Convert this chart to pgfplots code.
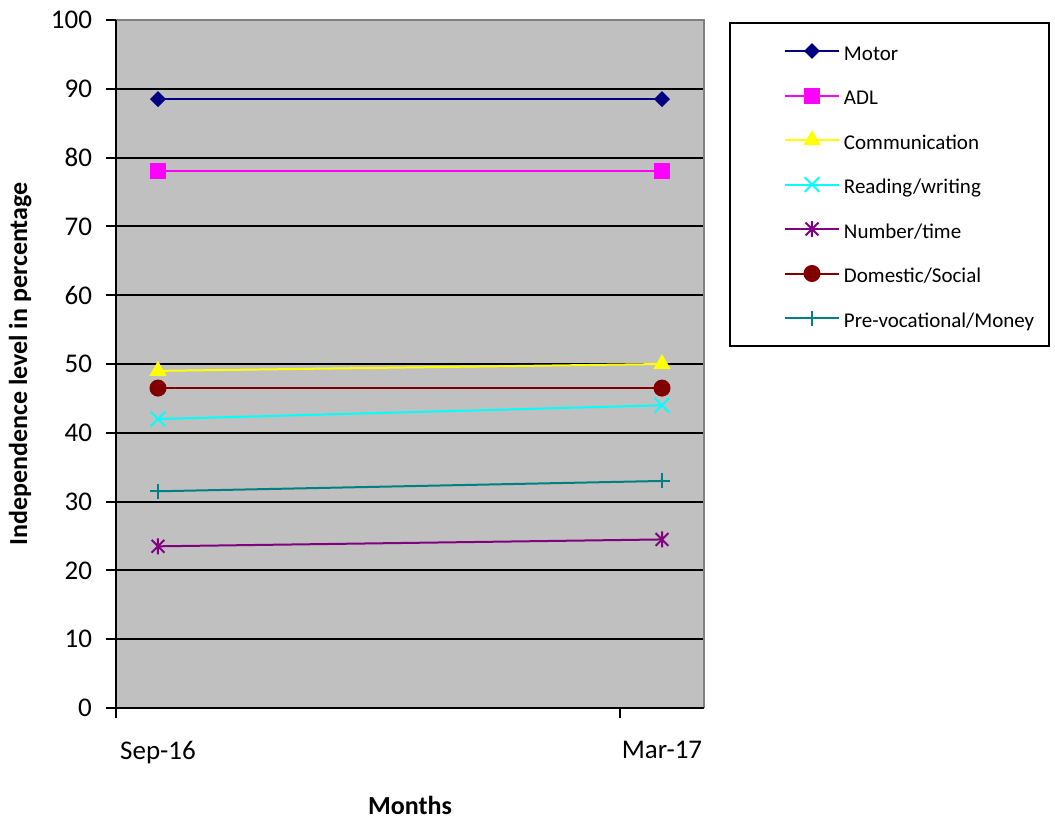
\documentclass[border=0pt]{standalone}
\usepackage{fontspec}
\setmainfont{Carlito}
\usepackage{pgfplots}
\pgfplotsset{compat=1.18}

\definecolor{cMotor}{RGB}{0,0,128}
\definecolor{cADL}{RGB}{255,0,255}
\definecolor{cComm}{RGB}{255,255,0}
\definecolor{cRead}{RGB}{0,255,255}
\definecolor{cNum}{RGB}{128,0,128}
\definecolor{cDom}{RGB}{128,0,0}
\definecolor{cPre}{RGB}{0,128,128}
\definecolor{plotbg}{RGB}{192,192,192}
\definecolor{framegray}{RGB}{128,128,128}

% Excel style star: vertical bar plus an x
\pgfdeclareplotmark{xstar}{%
  \pgfpathmoveto{\pgfqpoint{0pt}{-\pgfplotmarksize}}%
  \pgfpathlineto{\pgfqpoint{0pt}{\pgfplotmarksize}}%
  \pgfpathmoveto{\pgfqpoint{-.8\pgfplotmarksize}{-.8\pgfplotmarksize}}%
  \pgfpathlineto{\pgfqpoint{.8\pgfplotmarksize}{.8\pgfplotmarksize}}%
  \pgfpathmoveto{\pgfqpoint{-.8\pgfplotmarksize}{.8\pgfplotmarksize}}%
  \pgfpathlineto{\pgfqpoint{.8\pgfplotmarksize}{-.8\pgfplotmarksize}}%
  \pgfusepathqstroke}

\begin{document}
\begin{tikzpicture}
\useasboundingbox (-58pt,-56pt) rectangle (469.5pt,354pt);
\begin{axis}[
    scale only axis,
    width=294pt, height=344pt,
    xmin=0, xmax=7, ymin=0, ymax=100,
    clip=false,
    axis background/.style={fill=plotbg},
    axis line style={draw=none},
    ytick={0,10,...,100},
    xtick={0,6}, xticklabels={},
    extra x ticks={0.5,6.5},
    extra x tick labels={Sep-16,Mar-17},
    extra x tick style={major tick length=0pt, xticklabel style={yshift=-13pt}},
    xtick pos=bottom, ytick pos=left,
    tick align=outside,
    major tick length=5pt,
    tick style={black, line width=1pt},
    ymajorgrids,
    grid style={black, line width=1pt},
    /pgf/number format/assume math mode=true,
    tick label style={font=\fontsize{13.5}{16}\selectfont},
    yticklabel style={xshift=-3.5pt},
    xlabel={Months},
    ylabel={Independence level in percentage},
    xlabel style={font=\bfseries\fontsize{13}{15}\selectfont, at={(axis description cs:0.5,-0.141)}, anchor=center},
    ylabel style={font=\bfseries\fontsize{13}{15}\selectfont, at={(axis description cs:-0.163,0.5)}, anchor=center},
    legend cell align=left,
    legend style={at={(1.0425,0.99709)}, anchor=north west,
        draw=black, line width=1pt, fill=white,
        inner xsep=7.5pt, inner ysep=7.5pt,
        row sep=9.25pt, column sep=2pt,
        font=\fontsize{10.5}{12}\selectfont,
        nodes={inner sep=0pt, text height=11pt, text depth=2pt}},
    legend image code/.code={%
        \path (-19.5pt,0pt);
        \draw[mark repeat=2, mark phase=2] plot coordinates {(0pt,0pt) (13.5pt,0pt) (27pt,0pt)};},
    every axis plot/.append style={line width=1pt},
]
\addplot[color=cMotor, mark=diamond*, mark size=3.25pt, mark options={solid, xscale=1.35}]
    coordinates {(0.5,88.5) (6.5,88.5)};
\addlegendentry{Motor}
\addplot[color=cADL, mark=square*, mark size=3.5pt, mark options={solid}]
    coordinates {(0.5,78) (6.5,78)};
\addlegendentry{ADL}
\addplot[color=cComm, mark=triangle*, mark size=4pt, mark options={solid}]
    coordinates {(0.5,49) (6.5,50)};
\addlegendentry{Communication}
\addplot[color=cRead, mark=x, mark size=5.2pt, mark options={solid}]
    coordinates {(0.5,42) (6.5,44)};
\addlegendentry{Reading/writing}
\addplot[color=cNum, mark=xstar, mark size=4pt, mark options={solid}]
    coordinates {(0.5,23.5) (6.5,24.5)};
\addlegendentry{Number/time}
\addplot[color=cDom, mark=*, mark size=3.75pt, mark options={solid}]
    coordinates {(0.5,46.5) (6.5,46.5)};
\addlegendentry{Domestic/Social}
\addplot[color=cPre, mark=+, mark size=3.75pt, mark options={solid}]
    coordinates {(0.5,31.5) (6.5,33)};
\addlegendentry{Pre-vocational/Money}

\draw[framegray, line width=1pt] (rel axis cs:0,1) -- (rel axis cs:1,1) -- (rel axis cs:1,0);
\draw[black, line width=1.2pt] (rel axis cs:0,1) -- (rel axis cs:0,0) -- (rel axis cs:1,0);
\end{axis}
\end{tikzpicture}
\end{document}
